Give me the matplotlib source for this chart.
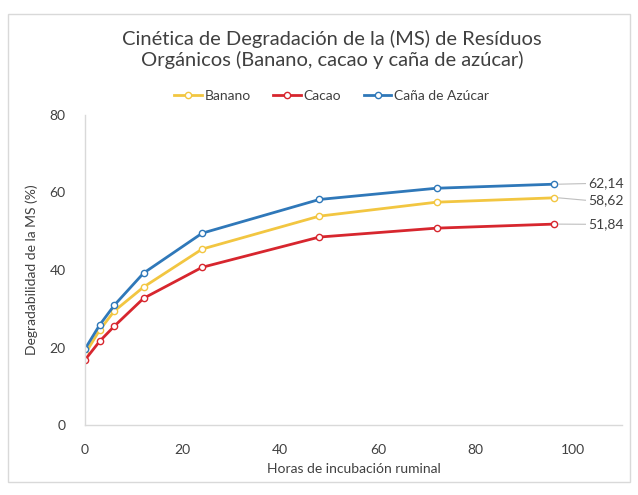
import matplotlib.pyplot as plt
from matplotlib.patches import Rectangle

plt.rcParams['font.family'] = ['Lato', 'DejaVu Sans']

# horas de incubacion y degradabilidad (%)
horas = [0, 3, 6, 12, 24, 48, 72, 96]
banano = [18.3, 24.5, 29.4, 35.6, 45.4, 53.9, 57.5, 58.62]
cacao = [16.8, 21.6, 25.5, 32.7, 40.7, 48.5, 50.8, 51.84]
cana = [19.6, 25.8, 30.9, 39.2, 49.5, 58.2, 61.1, 62.14]

series = [('Banano', banano, '#F2C641'),
          ('Cacao', cacao, '#D7262E'),
          ('Caña de Azúcar', cana, '#2F78B9')]

fig = plt.figure(figsize=(6.38, 4.95), dpi=100)
ax = fig.add_axes([0.1332, 0.1414, 0.8418, 0.6263])

# chart border
fig.patches.append(Rectangle((0.013, 0.026), 0.975, 0.946, transform=fig.transFigure,
                             fill=False, edgecolor='#d9d9d9', linewidth=1))

for name, vals, col in series:
    ax.plot(horas, vals, color=col, linewidth=2, marker='o', markersize=4.5,
            markerfacecolor='white', markeredgecolor=col, markeredgewidth=1, label=name)

# etiquetas de datos al final
label_y = [58.0, 51.8, 62.3]
for (name, vals, col), ly in zip(series, label_y):
    txt = '{:.2f}'.format(vals[-1]).replace('.', ',')
    ax.plot([horas[-1] + 1, 102.5], [vals[-1], ly], color='#bfbfbf', linewidth=0.8)
    ax.text(103, ly, txt, fontsize=10, color='#404040', va='center', ha='left')

ax.set_xlim(0, 110)
ax.set_ylim(0, 80)
ax.set_xticks([0, 20, 40, 60, 80, 100])
ax.set_yticks([0, 20, 40, 60, 80])
for s in ['top', 'right']:
    ax.spines[s].set_visible(False)
for s in ['left', 'bottom']:
    ax.spines[s].set_color('#d9d9d9')
    ax.spines[s].set_linewidth(1)
ax.tick_params(length=0, labelsize=10, labelcolor='#404040')
ax.tick_params(axis='y', pad=14)
ax.tick_params(axis='x', pad=14)
ax.set_xlabel('Horas de incubación ruminal', fontsize=10, color='#404040', labelpad=5)
ax.set_ylabel('Degradabilidad de la MS (%)', fontsize=10, color='#404040', labelpad=8)

fig.text(0.52, 0.9, 'Cinética de Degradación de la (MS) de Resíduos\nOrgánicos (Banano, cacao y caña de azúcar)',
         ha='center', va='center', fontsize=14.5, color='#404040', linespacing=1.2)

fig.legend(loc='center', bbox_to_anchor=(0.52, 0.807), ncol=3, frameon=False,
           fontsize=10, handlelength=2, handletextpad=0.2, columnspacing=1.6,
           labelcolor='#404040')

fig.savefig('out.png', dpi=100)
